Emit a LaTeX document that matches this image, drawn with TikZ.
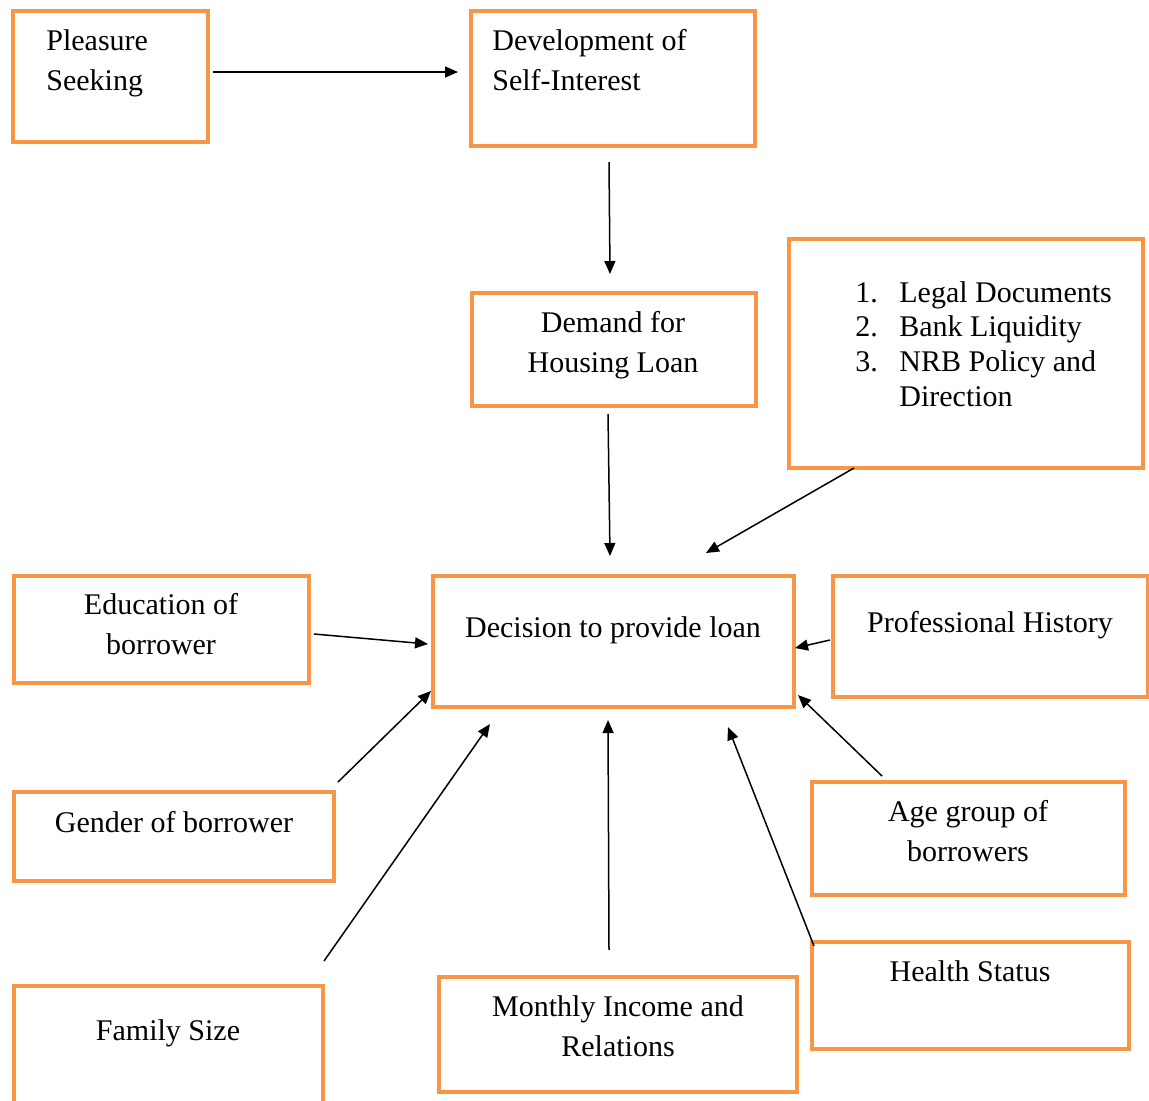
\documentclass[tikz,border=0pt]{standalone}
\usepackage{fontspec}
\setmainfont{Liberation Serif}
\usetikzlibrary{arrows.meta,fit}
\definecolor{boxorange}{HTML}{F79646}
\begin{document}
\begin{tikzpicture}[x=0.5pt,y=-0.5pt,
  box/.style={draw=boxorange,line width=2pt,rectangle,inner sep=0pt},
  txt/.style={inner sep=0pt,font=\fontsize{15pt}{20pt}\selectfont,align=center},
  arr/.style={-{Triangle[length=6.5pt,width=5.5pt]},line width=0.75pt,black}]
\useasboundingbox (0,0) rectangle (1149,1100);
% boxes
\node[box,fit={(13,11) (208,142)}] (ps) {};
\node[box,fit={(471,11) (755,146)}] (dev) {};
\node[box,fit={(472,293) (756,406)}] (dem) {};
\node[box,fit={(789,239) (1143,468)}] (lst) {};
\node[box,fit={(433,576) (794,707)}] (dec) {};
\node[box,fit={(14,576) (309,683)}] (edu) {};
\node[box,fit={(833,576) (1148,697)}] (pro) {};
\node[box,fit={(14,792) (334,881)}] (gen) {};
\node[box,fit={(812,782) (1125,895)}] (age) {};
\node[box,fit={(14,986) (323,1120)}] (fam) {};
\node[box,fit={(439,977) (797,1092)}] (inc) {};
\node[box,fit={(812,942) (1129,1049)}] (hlt) {};
% texts
\node[txt,align=left,anchor=west] (tps) at (46,63) {Pleasure\\Seeking};
\node[txt,align=left,anchor=west] (tdev) at (492,60) {Development of\\Self-Interest};
\node[txt] (tdem) at (613,345) {Demand for\\Housing Loan};
\node[txt,align=left,anchor=west,font=\fontsize{15pt}{17.3pt}\selectfont] (tlst) at (855,344)
  {\makebox[22pt][l]{1.}Legal Documents\\\makebox[22pt][l]{2.}Bank Liquidity\\\makebox[22pt][l]{3.}NRB Policy and\\\makebox[22pt][l]{}Direction};
\node[txt] (tdec) at (613,630) {Decision to provide loan};
\node[txt] (tedu) at (161,624) {Education of\\borrower};
\node[txt] (tpro) at (990,625) {Professional History};
\node[txt] (tgen) at (174,822) {Gender of borrower};
\node[txt] (tage) at (968,831) {Age group of\\borrowers};
\node[txt] (tfam) at (168,1033) {Family Size};
\node[txt] (tinc) at (618,1026) {Monthly Income and\\Relations};
\node[txt] (thlt) at (970,971) {Health Status};
% arrows
\draw[arr] ([shift={(3,-4.5)}]ps.east) -- ([shift={(-11,-6.5)}]dev.west);
\draw[arr] ([shift={(-4,14)}]dev.south) -- ([shift={(-4,-17)}]dem.north);
\draw[arr] ([shift={(-6,6)}]dem.south) -- ([shift={(-3.5,-18)}]dec.north);
\draw[arr] ([shift={(67,-2)}]lst.south west) -- ([shift={(92.5,-21)}]dec.north);
\draw[arr] ([shift={(3,4.5)}]edu.east) -- ([shift={(-3,2.5)}]dec.west);
\draw[arr] ([shift={(-1,3.5)}]pro.west) -- ([shift={(-1,6.5)}]dec.east);
\draw[arr] ([shift={(2,-8)}]gen.north east) -- ([shift={(0,-18)}]dec.south west);
\draw[arr] ([shift={(-1,-23)}]fam.north east) -- ([shift={(59,15)}]dec.south west);
\draw[arr] ([shift={(-9,-25)}]inc.north) -- ([shift={(-5.5,11)}]dec.south);
\draw[arr] ([shift={(4,6)}]hlt.north west) -- ([shift={(-68,18)}]dec.south east);
\draw[arr] ([shift={(72,-4)}]age.north west) -- ([shift={(2,-14)}]dec.south east);
\end{tikzpicture}
\end{document}
